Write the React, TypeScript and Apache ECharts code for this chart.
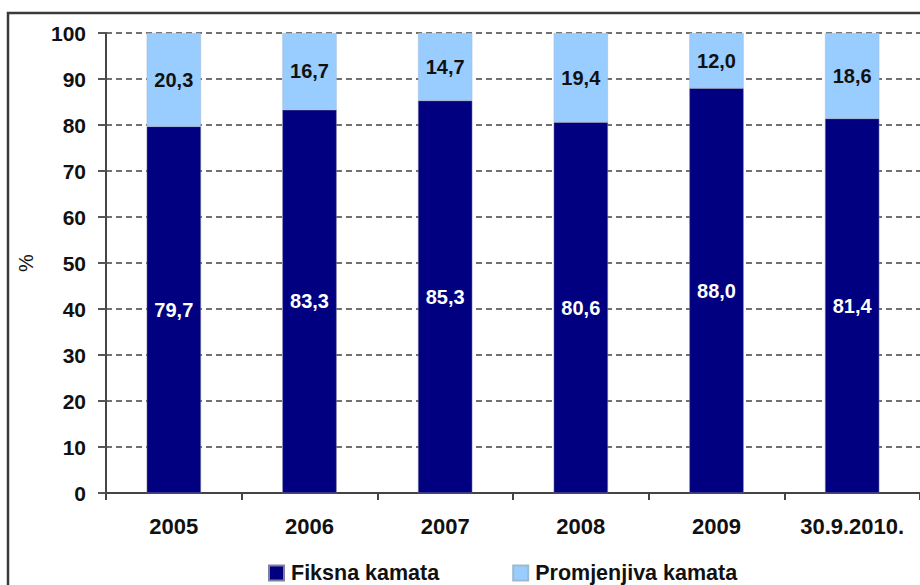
import React, { useEffect, useRef } from "react";
import * as echarts from "echarts";

const categories = ["2005", "2006", "2007", "2008", "2009", "30.9.2010."];
const fiksna = [79.7, 83.3, 85.3, 80.6, 88.0, 81.4];
const promjenjiva = [20.3, 16.7, 14.7, 19.4, 12.0, 18.6];
const seriesNames = ["Fiksna kamata", "Promjenjiva kamata"];

const FONT = "'Liberation Sans', Arial, sans-serif";
const fmt = (v: number) => v.toFixed(1).replace(".", ",");

export default function App() {
  const ref = useRef<HTMLDivElement>(null);
  useEffect(() => {
    if (!ref.current) return;
    const chart = echarts.init(ref.current, null, { renderer: "svg" });
    chart.setOption({
      animation: false,
      backgroundColor: "#ffffff",
      textStyle: { fontFamily: FONT },
      graphic: [
        {
          type: "rect",
          z: -10,
          silent: true,
          shape: { x: 8, y: 13, width: 1000, height: 1000 },
          style: { fill: "none", stroke: "#3a3a3a", lineWidth: 2.5 },
        },
      ],
      grid: { left: 106, top: 33, width: 825, height: 460, containLabel: false },
      legend: {
        data: seriesNames,
        left: 268,
        top: 562,
        padding: 0,
        icon: "rect",
        itemWidth: 15,
        itemHeight: 15,
        itemGap: 73,
        textStyle: { fontFamily: FONT, fontWeight: "bold", fontSize: 21.5, color: "#111", padding: [0, 0, 0, 2], lineHeight: 22 },
      },
      xAxis: {
        type: "category",
        data: categories,
        axisLine: { lineStyle: { color: "#444", width: 2 } },
        axisTick: { show: true, length: 7, lineStyle: { color: "#444", width: 2 } },
        axisLabel: { margin: 22, fontFamily: FONT, fontWeight: "bold", fontSize: 22, color: "#111" },
      },
      yAxis: {
        type: "value",
        min: 0,
        max: 100,
        interval: 10,
        name: "%",
        nameLocation: "middle",
        nameRotate: 90,
        nameGap: 70,
        nameTextStyle: { fontFamily: FONT, fontSize: 20, color: "#111" },
        axisLine: { show: true, lineStyle: { color: "#444", width: 2 } },
        axisTick: { show: true, length: 8, lineStyle: { color: "#555", width: 2 } },
        axisLabel: { margin: 20, fontFamily: FONT, fontWeight: "bold", fontSize: 21, color: "#111" },
        splitLine: { show: true, lineStyle: { color: "#707070", width: 2, type: [6, 4] } },
      },
      series: [
        {
          name: seriesNames[0],
          type: "bar",
          stack: "total",
          data: fiksna,
          barWidth: "40%",
          itemStyle: { color: "#000080", borderColor: "#7f7fa0", borderWidth: 0.5 },
          label: {
            show: true,
            position: "inside",
            formatter: (p: any) => fmt(p.value),
            fontFamily: FONT,
            fontWeight: "bold",
            fontSize: 20,
            color: "#ffffff",
          },
        },
        {
          name: seriesNames[1],
          type: "bar",
          stack: "total",
          data: promjenjiva,
          barWidth: "40%",
          itemStyle: { color: "#99ccff", borderColor: "#a0b8d0", borderWidth: 0.5 },
          label: {
            show: true,
            position: "inside",
            formatter: (p: any) => fmt(p.value),
            fontFamily: FONT,
            fontWeight: "bold",
            fontSize: 20,
            color: "#111",
          },
        },
      ],
    });
    return () => chart.dispose();
  }, []);
  return <div ref={ref} style={{ position: "fixed", left: 0, top: 0, width: 920, height: 585 }} />;
}
